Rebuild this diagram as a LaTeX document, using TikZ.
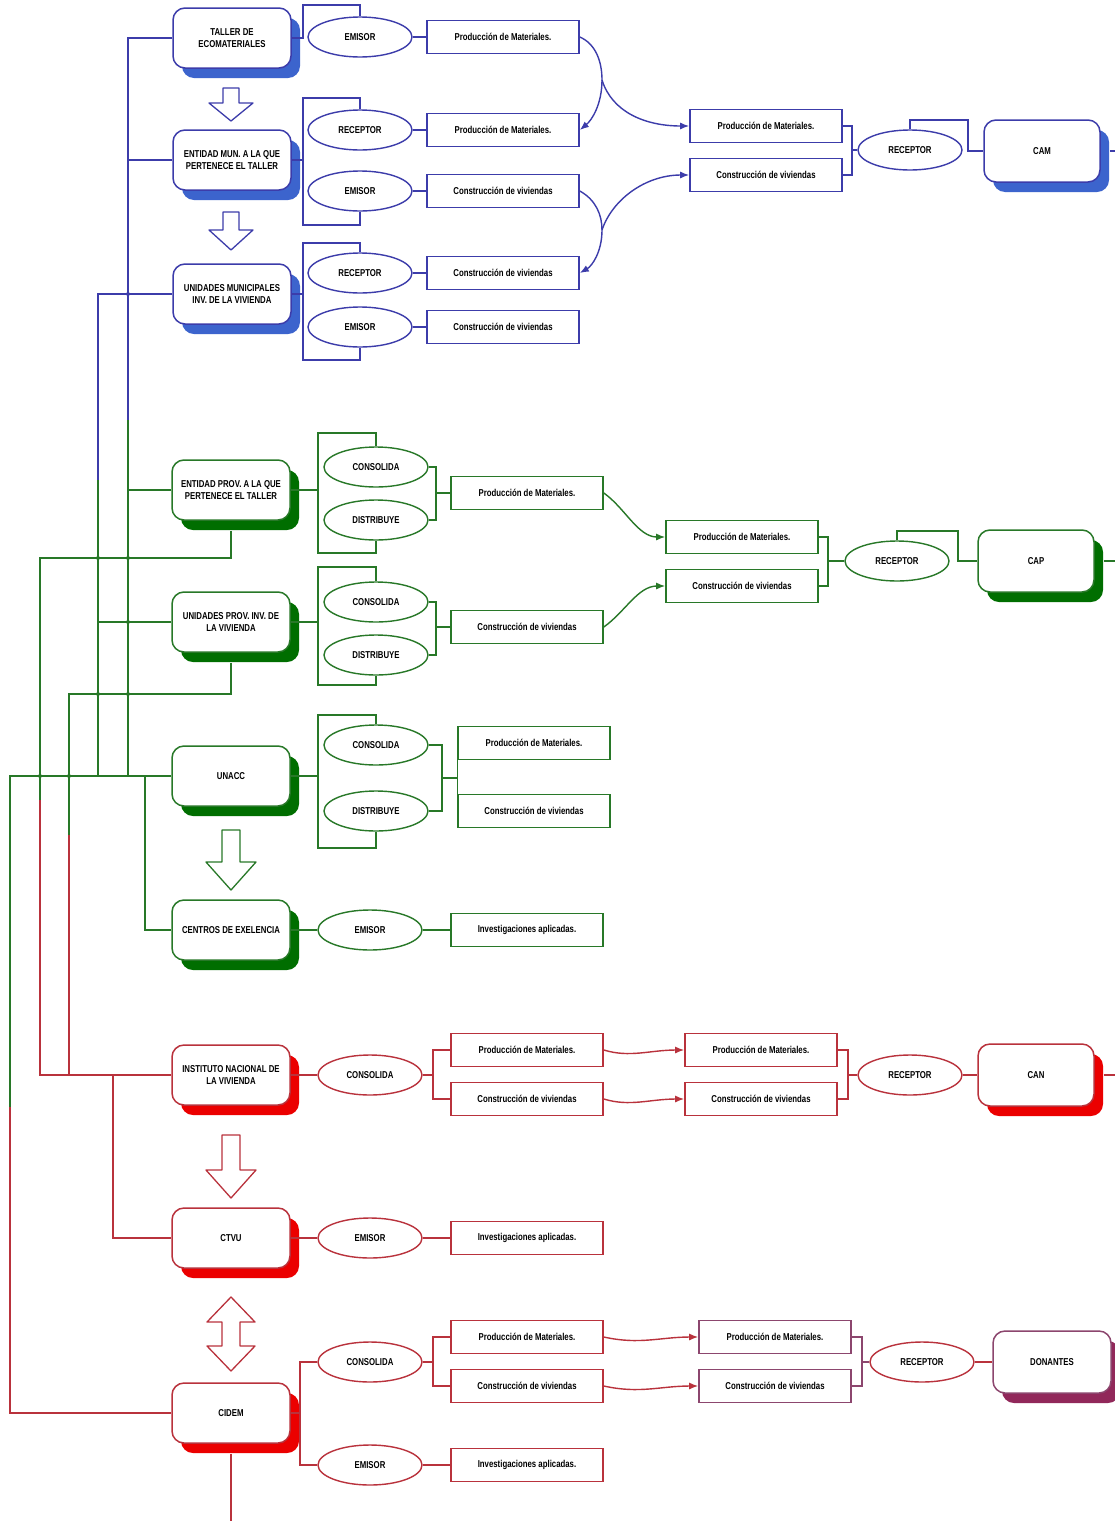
\documentclass[tikz,border=0pt]{standalone}
\usepackage{fontspec}
\setmainfont{Liberation Sans}[FakeStretch=0.78]
\usetikzlibrary{shapes.geometric,shadows,arrows.meta}

\definecolor{bline}{RGB}{60,60,170}
\definecolor{bshade}{RGB}{60,100,205}
\definecolor{gline}{RGB}{40,120,40}
\definecolor{gshade}{RGB}{0,110,0}
\definecolor{rline}{RGB}{185,50,60}
\definecolor{rshade}{RGB}{235,0,0}
\definecolor{pline}{RGB}{140,70,110}
\definecolor{pshade}{RGB}{145,40,90}

\tikzset{
  orgbox/.style={rectangle, rounded corners=12pt, draw=#1line, line width=1.5pt, fill=white,
    minimum width=118pt, minimum height=60pt, align=center,
    general shadow={fill=#1shade, shadow xshift=9pt, shadow yshift=-10pt}},
  rolell/.style={ellipse, draw=#1line, line width=1.4pt, fill=white, minimum width=104pt, minimum height=40pt, inner sep=0pt},
  prodbox/.style={rectangle, draw=#1line, line width=1.6pt, fill=white, minimum width=152pt, minimum height=33pt},
  wire/.style={draw=#1line, line width=1.4pt},
  feed/.style={draw=#1line, line width=1.4pt, -{Latex[length=9pt,width=7pt]}},
  joint/.style={circle, fill=#1line, inner sep=0pt, minimum size=4pt},
  block/.style={draw=#1line, line width=1.3pt, fill=white, line join=round},
}
\newcommand{\hollowarrow}[7]{\draw[#1] ({#2-#6},#3) -- ({#2+#6},#3) -- ({#2+#6},#4) -- ({#2+#7},#4) -- (#2,#5) -- ({#2-#7},#4) -- ({#2-#6},#4) -- cycle;}

\begin{document}
\begin{tikzpicture}[x=1pt, y=-1pt, font=\fontsize{10}{12.5}\selectfont\bfseries]
	\useasboundingbox[fill=white] (0,0) rectangle (1115,1521);
	
	%%%%% BLUE %%%%%
	
	\node[orgbox=b] (taller) at (232,38) {TALLER DE\\ECOMATERIALES};
	\node[orgbox=b] (entmun) at (232,160) {ENTIDAD MUN. A LA QUE\\PERTENECE EL TALLER};
	\node[orgbox=b] (unimun) at (232,294) {UNIDADES MUNICIPALES\\INV. DE LA VIVIENDA};
	
	\hollowarrow{block=b}{231}{88}{103}{121}{8}{22}
	\hollowarrow{block=b}{231}{212}{230}{250}{8}{22}
	
	\node[rolell=b] (tEmi) at (360,37) {EMISOR};
	\node[rolell=b] (mRec) at (360,130) {RECEPTOR};
	\node[rolell=b] (mEmi) at (360,191) {EMISOR};
	\node[rolell=b] (uRec) at (360,273) {RECEPTOR};
	\node[rolell=b] (uEmi) at (360,327) {EMISOR};
	
	\node[prodbox=b] (tProd) at (503,37) {Producción de Materiales.};
	\node[prodbox=b] (mProd) at (503,130) {Producción de Materiales.};
	\node[prodbox=b] (mCons) at (503,191) {Construcción de viviendas};
	\node[prodbox=b] (uCons) at (503,273) {Construcción de viviendas};
	\node[prodbox=b] (uCons2) at (503,327) {Construcción de viviendas};
	
	\node[prodbox=b] (camProd) at (766,126) {Producción de Materiales.};
	\node[prodbox=b] (camCons) at (766,175) {Construcción de viviendas};
	\node[rolell=b] (camRec) at (910,150) {RECEPTOR};
	\node[orgbox=b, minimum width=116pt, minimum height=62pt] (cam) at (1042,151) {CAM};
	
	\draw[wire=b] (taller.east) -- (303,38) -- (303,5) -| (tEmi.north);
	\draw[wire=b] (entmun.east) -- (303,160);
	\draw[wire=b] (mRec.north) |- (303,98) -- (303,225) -| (mEmi.south);
	\draw[wire=b] (unimun.east) -- (303,294);
	\draw[wire=b] (uRec.north) |- (303,243) -- (303,360) -| (uEmi.south);
	\foreach \a/\b in {tEmi/tProd, mRec/mProd, mEmi/mCons, uRec/uCons, uEmi/uCons2}
		\draw[wire=b] (\a) -- (\b);
	
	\draw[wire=b] (tProd.east) .. controls (596,44) and (602,62) .. (602,80) coordinate (bsplitA);
	\draw[feed=b] (bsplitA) .. controls (602,104) and (592,120) .. (mProd.east);
	\draw[feed=b] (bsplitA) .. controls (612,112) and (645,126) .. (camProd.west);
	\draw[wire=b] (mCons.east) .. controls (596,200) and (602,215) .. (602,230) coordinate (bsplitB);
	\draw[feed=b] (bsplitB) .. controls (602,252) and (592,266) .. (uCons.east);
	\draw[feed=b] (bsplitB) .. controls (612,200) and (645,175) .. (camCons.west);
	
	\draw[wire=b] (camProd.east) -- (852,126) -- (852,175) -- (camCons.east);
	\draw[wire=b] (852,150) -- (camRec.west);
	\draw[wire=b] (camRec.north) -- (910,120) -- (968,120) |- (cam.west);
	\draw[wire=b] ([xshift=9pt]cam.east) -- (1115,151);
	
	\draw[wire=b] (taller.west) -- (128,38) -- (128,420);
	\draw[wire=b] (entmun.west) -- (128,160);
	\draw[wire=b] (unimun.west) -- (98,294) -- (98,480);
	\node[joint=b] (jb1) at (128,294) {};
	
	%%%%% GREEN %%%%%
	
	\node[orgbox=g] (entprov) at (231,490) {ENTIDAD PROV. A LA QUE\\PERTENECE EL TALLER};
	\node[orgbox=g] (uniprov) at (231,622) {UNIDADES PROV. INV. DE\\LA VIVIENDA};
	\node[orgbox=g] (unacc) at (231,776) {UNACC};
	\node[orgbox=g] (centros) at (231,930) {CENTROS DE EXELENCIA};
	
	\hollowarrow{block=g}{231}{830}{862}{890}{9}{25}
	
	\node[rolell=g] (epCon) at (376,467) {CONSOLIDA};
	\node[rolell=g] (epDis) at (376,520) {DISTRIBUYE};
	\node[rolell=g] (upCon) at (376,602) {CONSOLIDA};
	\node[rolell=g] (upDis) at (376,655) {DISTRIBUYE};
	\node[rolell=g] (unCon) at (376,745) {CONSOLIDA};
	\node[rolell=g] (unDis) at (376,811) {DISTRIBUYE};
	\node[rolell=g] (ceEmi) at (370,930) {EMISOR};
	
	\node[prodbox=g] (epProd) at (527,493) {Producción de Materiales.};
	\node[prodbox=g] (upCons) at (527,627) {Construcción de viviendas};
	\node[prodbox=g] (unProd) at (534,743) {Producción de Materiales.};
	\node[prodbox=g] (unCons) at (534,811) {Construcción de viviendas};
	\node[prodbox=g] (ceInv) at (527,930) {Investigaciones aplicadas.};
	
	\node[prodbox=g] (capProd) at (742,537) {Producción de Materiales.};
	\node[prodbox=g] (capCons) at (742,586) {Construcción de viviendas};
	\node[rolell=g] (capRec) at (897,561) {RECEPTOR};
	\node[orgbox=g, minimum width=116pt, minimum height=62pt] (cap) at (1036,561) {CAP};
	
	\draw[wire=g] (entprov.east) -- (318,490);
	\draw[wire=g] (epCon.north) |- (318,433) -- (318,553) -| (epDis.south);
	\draw[wire=g] (epCon.east) -- (436,467) -- (436,520) -- (epDis.east);
	\draw[wire=g] (436,493) -- (epProd.west);
	
	\draw[wire=g] (uniprov.east) -- (318,622);
	\draw[wire=g] (upCon.north) |- (318,567) -- (318,685) -| (upDis.south);
	\draw[wire=g] (upCon.east) -- (436,602) -- (436,655) -- (upDis.east);
	\draw[wire=g] (436,627) -- (upCons.west);
	
	\draw[wire=g] (unacc.east) -- (318,776);
	\draw[wire=g] (unCon.north) |- (318,715) -- (318,848) -| (unDis.south);
	\draw[wire=g] (unCon.east) -- (442,745) -- (442,811) -- (unDis.east);
	\draw[wire=g] (442,778) -- (458,778);
	\draw[wire=g] (unProd.south west) -- (unCons.north west);
	
	\draw[wire=g] (centros) -- (ceEmi);
	\draw[wire=g] (ceEmi) -- (ceInv);
	
	\draw[feed=g] (epProd.east) .. controls (625,508) and (638,537) .. (capProd.west);
	\draw[feed=g] (upCons.east) .. controls (625,612) and (638,586) .. (capCons.west);
	\draw[wire=g] (capProd.east) -- (828,537) -- (828,586) -- (capCons.east);
	\draw[wire=g] (828,561) -- (capRec.west);
	\draw[wire=g] (capRec.north) -- (897,531) -- (958,531) |- (cap.west);
	\draw[wire=g] ([xshift=9pt]cap.east) -- (1115,561);
	
	\draw[wire=g] (entprov.west) -- (128,490);
	\draw[wire=g] (128,420) -- (128,776);
	\draw[wire=g] (98,480) -- (98,776);
	\draw[wire=g] (uniprov.west) -- (98,622);
	\draw[wire=g] ([yshift=-10pt]entprov.south) -- (231,558) -- (40,558) -- (40,800);
	\draw[wire=g] ([yshift=-10pt]uniprov.south) -- (231,694) -- (69,694) -- (69,835);
	\draw[wire=g] (10,1107) -- (10,776) -- (unacc.west);
	\draw[wire=g] (145,776) |- (centros.west);
	\foreach \p/\q [count=\k] in {128/622, 98/558, 128/558, 98/694, 128/694, 40/776, 69/776}
		\node[joint=g] (jg\k) at (\p,\q) {};
	
	%%%%% RED %%%%%
	
	\node[orgbox=r] (inv) at (231,1075) {INSTITUTO NACIONAL DE\\LA VIVIENDA};
	\node[orgbox=r] (ctvu) at (231,1238) {CTVU};
	\node[orgbox=r] (cidem) at (231,1413) {CIDEM};
	
	\hollowarrow{block=r}{231}{1135}{1170}{1198}{9}{25}
	\draw[block=r] (231,1297) -- (255,1322) -- (240,1322) -- (240,1346) -- (255,1346) -- (231,1371)
		-- (207,1346) -- (222,1346) -- (222,1322) -- (207,1322) -- cycle;
	
	\node[rolell=r] (inCon) at (370,1075) {CONSOLIDA};
	\node[rolell=r] (ctEmi) at (370,1238) {EMISOR};
	\node[rolell=r] (ciCon) at (370,1362) {CONSOLIDA};
	\node[rolell=r] (ciEmi) at (370,1465) {EMISOR};
	
	\node[prodbox=r] (inProd) at (527,1050) {Producción de Materiales.};
	\node[prodbox=r] (inCons) at (527,1099) {Construcción de viviendas};
	\node[prodbox=r] (ctInv) at (527,1238) {Investigaciones aplicadas.};
	\node[prodbox=r] (ciProd) at (527,1337) {Producción de Materiales.};
	\node[prodbox=r] (ciCons) at (527,1386) {Construcción de viviendas};
	\node[prodbox=r] (ciInv) at (527,1465) {Investigaciones aplicadas.};
	
	\node[prodbox=r] (canProd) at (761,1050) {Producción de Materiales.};
	\node[prodbox=r] (canCons) at (761,1099) {Construcción de viviendas};
	\node[rolell=r] (canRec) at (910,1075) {RECEPTOR};
	\node[orgbox=r, minimum width=116pt, minimum height=62pt] (can) at (1036,1075) {CAN};
	
	\node[prodbox=p] (donProd) at (775,1337) {Producción de Materiales.};
	\node[prodbox=p] (donCons) at (775,1386) {Construcción de viviendas};
	\node[rolell=r] (donRec) at (922,1362) {RECEPTOR};
	\node[orgbox=p, minimum width=118pt, minimum height=62pt] (donantes) at (1052,1362) {DONANTES};
	
	\draw[wire=r] (inv) -- (inCon);
	\draw[wire=r] (inCon.east) -- (433,1075);
	\draw[wire=r] (inProd.west) -| (433,1075) |- (inCons.west);
	\draw[feed=r] (inProd.east) .. controls (630,1058) and (650,1050) .. (canProd.west);
	\draw[feed=r] (inCons.east) .. controls (630,1107) and (650,1099) .. (canCons.west);
	\draw[wire=r] (canProd.east) -- (848,1050) -- (848,1099) -- (canCons.east);
	\draw[wire=r] (848,1075) -- (canRec.west);
	\draw[wire=r] (canRec) -- (can);
	\draw[wire=r] ([xshift=9pt]can.east) -- (1115,1075);
	
	\draw[wire=r] (ctvu) -- (ctEmi);
	\draw[wire=r] (ctEmi) -- (ctInv);
	
	\draw[wire=r] (cidem.east) -- (300,1413);
	\draw[wire=r] (ciCon.west) -| (300,1413) |- (ciEmi.west);
	\draw[wire=r] (ciCon.east) -- (433,1362);
	\draw[wire=r] (ciProd.west) -| (433,1362) |- (ciCons.west);
	\draw[wire=r] (ciEmi) -- (ciInv);
	\draw[feed=r] (ciProd.east) .. controls (640,1345) and (660,1337) .. (donProd.west);
	\draw[feed=r] (ciCons.east) .. controls (640,1394) and (660,1386) .. (donCons.west);
	\draw[wire=p] (donProd.east) -- (862,1337) -- (862,1386) -- (donCons.east);
	\draw[wire=p] (862,1362) -- (donRec.west);
	\draw[wire=r] (donRec) -- (donantes);
	
	\draw[wire=r] (40,800) -- (40,1075) -- (inv.west);
	\draw[wire=r] (69,835) -- (69,1075);
	\draw[wire=r] (113,1075) |- (ctvu.west);
	\draw[wire=r] (10,1107) -- (10,1413) -- (cidem.west);
	\draw[wire=r] ([yshift=-10pt]cidem.south) -- (231,1521);
	
\end{tikzpicture}
\end{document}
